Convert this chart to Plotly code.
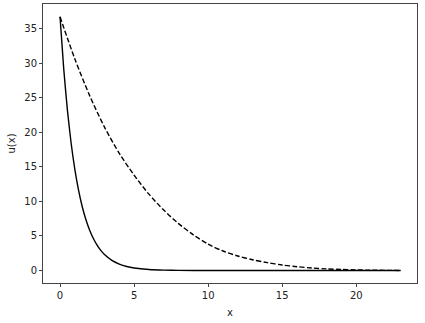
import plotly.graph_objects as go

# Solid curve (fast decay)
x_solid = [0, 0.25, 0.5, 0.75, 1.0, 1.25, 1.5, 1.75, 2.0, 2.25, 2.5, 2.75, 3.0,
           3.5, 4.0, 4.5, 5, 6, 7, 8, 10, 12, 15, 18, 20, 23]
u_solid = [36.7, 29.16, 23.17, 18.41, 14.63, 11.62, 9.23, 7.34, 5.83, 4.63, 3.68,
           2.92, 2.32, 1.47, 0.93, 0.58, 0.37, 0.15, 0.06, 0.02, 0.004, 0.001, 0, 0, 0, 0]

# Dashed curve (slow decay)
x_dashed = list(range(0, 24))
u_dashed = [36.7, 30.6, 25.3, 20.75, 16.95, 13.8, 11.05, 8.74, 6.79, 5.16, 3.83,
            2.83, 2.11, 1.56, 1.14, 0.80, 0.56, 0.37, 0.24, 0.15, 0.09, 0.05, 0.03, 0.015]

x_ticks = [0, 5, 10, 15, 20]
y_ticks = [0, 5, 10, 15, 20, 25, 30, 35]

fig = go.Figure()
fig.add_trace(go.Scatter(x=x_solid, y=u_solid, mode="lines",
                         line=dict(color="black", width=1.4, shape="spline", smoothing=0.6),
                         showlegend=False, hoverinfo="skip"))
fig.add_trace(go.Scatter(x=x_dashed, y=u_dashed, mode="lines",
                         line=dict(color="black", width=1.4, dash="5px,2.3px", shape="spline", smoothing=0.8),
                         showlegend=False, hoverinfo="skip"))

font = dict(family="DejaVu Sans", size=10, color="#222")
axis_common = dict(showline=True, linecolor="#444", linewidth=1, mirror=True,
                   ticks="outside", ticklen=3, tickwidth=1, tickcolor="#444",
                   showgrid=False, zeroline=False, tickfont=font)

fig.update_xaxes(range=[-1.15, 24.1], tickvals=x_ticks,
                 title=dict(text="x", font=font, standoff=8), **axis_common)
fig.update_yaxes(range=[-1.8, 38.55], tickvals=y_ticks,
                 title=dict(text="u(x)", font=font, standoff=6), **axis_common)

fig.update_layout(width=425, height=323, margin=dict(l=43, r=8, t=4, b=40),
                  paper_bgcolor="white", plot_bgcolor="white")

fig.write_html("out.html", config={"displayModeBar": False},
               post_script="document.body.style.margin='0';document.body.style.padding='0';document.body.style.overflow='hidden';")
